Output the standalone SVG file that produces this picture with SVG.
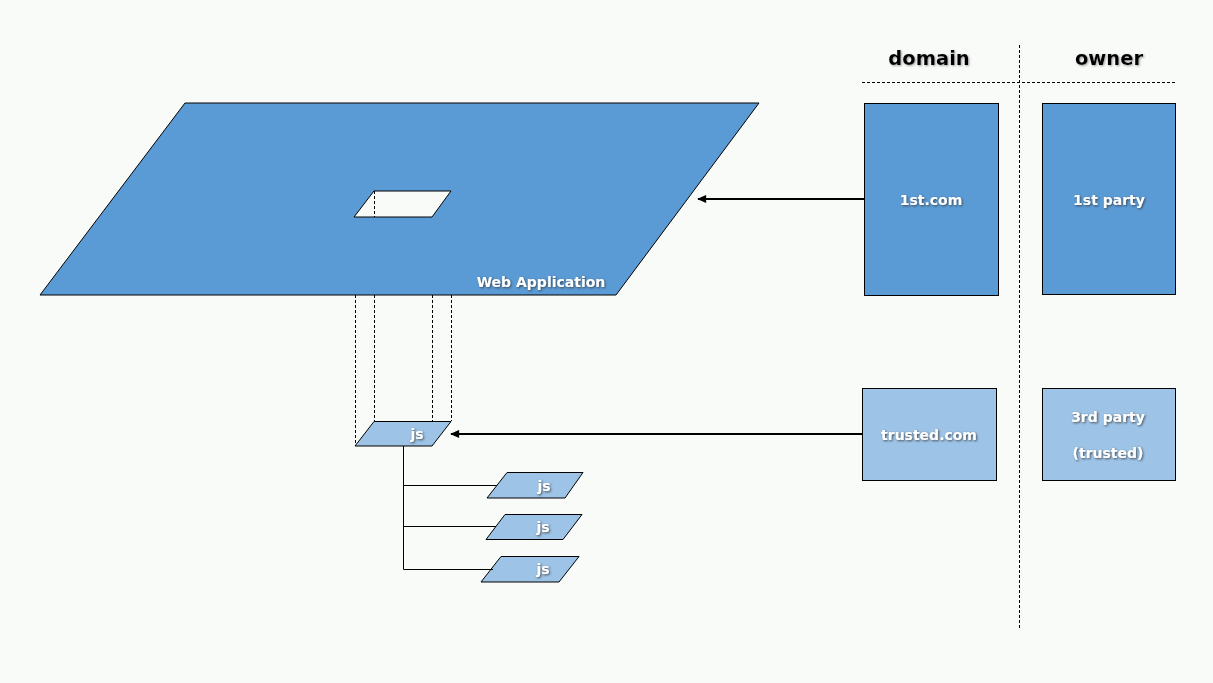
<svg xmlns="http://www.w3.org/2000/svg" width="1213" height="683" viewBox="0 0 1213 683">
<defs>
<filter id="sh" x="-20%" y="-50%" width="140%" height="200%"><feDropShadow dx="1" dy="1" stdDeviation="0.8" flood-color="#333" flood-opacity="0.8"/></filter>
<filter id="shh" x="-20%" y="-50%" width="140%" height="200%"><feDropShadow dx="1" dy="1" stdDeviation="1" flood-color="#777" flood-opacity="0.7"/></filter>
<marker id="ah" viewBox="0 0 10 10" refX="9" refY="5" markerWidth="10" markerHeight="9" markerUnits="userSpaceOnUse" orient="auto"><path d="M0,0.5 L10,5 L0,9.5 Z" fill="#000"/></marker>
</defs>
<style>
.dk{fill:#5B9BD5;stroke:#000;stroke-width:1}
.lt{fill:#9DC3E6;stroke:#000;stroke-width:1}
.t{font-family:"DejaVu Sans",Verdana,sans-serif;font-weight:bold;fill:#fff;font-size:14px;text-anchor:middle;filter:url(#sh)}
.h{font-family:"DejaVu Sans",Verdana,sans-serif;font-weight:bold;fill:#000;font-size:19.5px;text-anchor:middle;filter:url(#shh)}
.d{stroke:#000;stroke-width:1;stroke-dasharray:3,2;fill:none}
.c{stroke:#000;stroke-width:1;fill:none}
.a{stroke:#000;stroke-width:2;fill:none}
</style>
<rect width="1213" height="683" fill="#F9FBF9"/>
<g id="headers">
<text class="h" x="929" y="65">domain</text>
<text class="h" x="1109" y="65">owner</text>
<line class="d" x1="862" y1="82.5" x2="1175" y2="82.5"/>
<line class="d" x1="1019.5" y1="45" x2="1019.5" y2="628"/>
</g>
<g id="webapp">
<polygon class="dk" points="185,103 759,103 616,295 40,295"/>
<polygon points="374,191 451,191 432,217 354,217" fill="#F9FBF9" stroke="#000"/>
<line class="d" x1="374.5" y1="191" x2="374.5" y2="217"/>
<text class="t" x="541" y="287">Web Application</text>
</g>
<g id="projection">
<line class="d" x1="355.5" y1="295" x2="355.5" y2="446"/>
<line class="d" x1="374.5" y1="295" x2="374.5" y2="421"/>
<line class="d" x1="432.5" y1="295" x2="432.5" y2="446"/>
<line class="d" x1="451.5" y1="295" x2="451.5" y2="421"/>
</g>
<g id="js-main">
<polygon class="lt" points="374,421.5 451,421.5 432,446 355,446"/>
<text class="t" x="417" y="439">js</text>
</g>
<g id="js-1">
<polygon class="lt" points="507,472.5 583,472.5 565,498 487,498"/>
<text class="t" x="544" y="491">js</text>
</g>
<g id="js-2">
<polygon class="lt" points="505,514.5 582,514.5 563,539.5 486,539.5"/>
<text class="t" x="543" y="532">js</text>
</g>
<g id="js-3">
<polygon class="lt" points="501,556.5 579,556.5 559,582 481,582"/>
<text class="t" x="543" y="574">js</text>
</g>
<g id="domain-1st">
<rect class="dk" x="864.5" y="103.5" width="134" height="192"/>
<text class="t" x="931" y="205">1st.com</text>
</g>
<g id="owner-1st">
<rect class="dk" x="1042.5" y="103.5" width="133" height="191"/>
<text class="t" x="1109" y="205">1st party</text>
</g>
<g id="domain-trusted">
<rect class="lt" x="862.5" y="388.5" width="134" height="92"/>
<text class="t" x="929" y="440">trusted.com</text>
</g>
<g id="owner-3rd">
<rect class="lt" x="1042.5" y="388.5" width="133" height="92"/>
<text class="t" x="1108" y="422">3rd party</text>
<text class="t" x="1108" y="458">(trusted)</text>
</g>
<g id="connectors">
<line class="a" x1="864" y1="199" x2="698" y2="199" marker-end="url(#ah)"/>
<line class="a" x1="862" y1="434" x2="451" y2="434" marker-end="url(#ah)"/>
<polyline class="c" points="403.5,446 403.5,569.5 493,569.5"/>
<line class="c" x1="403.5" y1="485.5" x2="497" y2="485.5"/>
<line class="c" x1="403.5" y1="526.5" x2="496" y2="526.5"/>
</g>
</svg>
